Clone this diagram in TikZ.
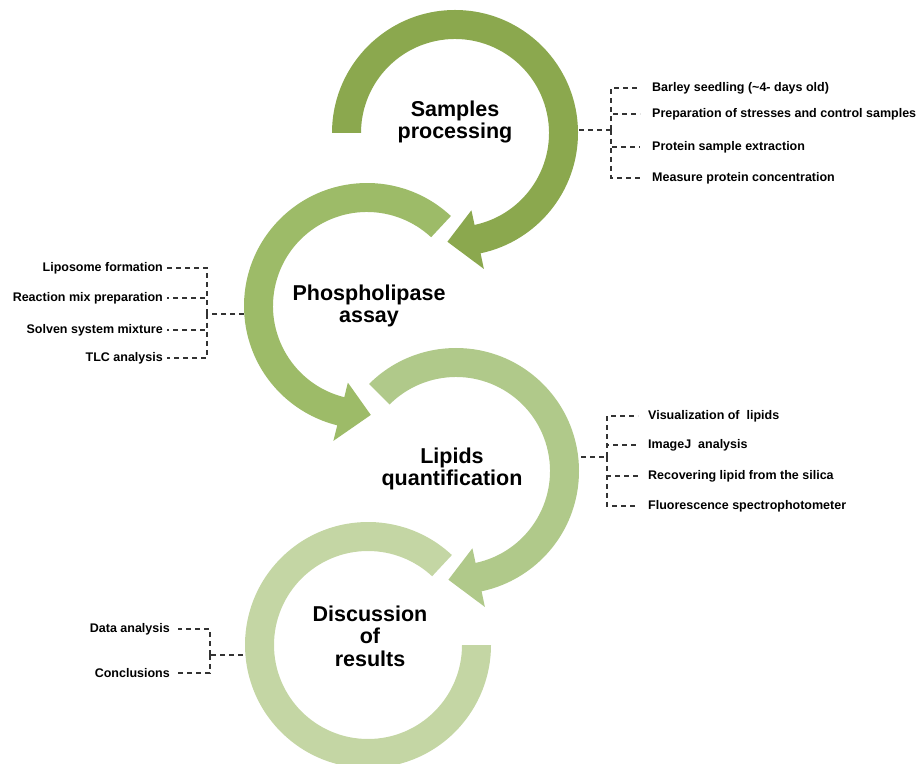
\documentclass[tikz,border=0pt]{standalone}
\usepackage{fontspec}
\setmainfont{Liberation Sans}
\usetikzlibrary{positioning}
\definecolor{stageA}{RGB}{139,168,78}
\definecolor{stageB}{RGB}{157,187,104}
\definecolor{stageC}{RGB}{176,201,138}
\definecolor{stageD}{RGB}{196,214,164}
% ring with an arrow head: colour, start angle, head base angle, tip angle
\newcommand{\ringarrow}[4]{%
  \fill[#1] (#2:123pt) arc[start angle=#2,end angle=#3,radius=123pt]
    -- (#3:139pt) -- (#4:109pt) -- (#3:79pt) -- (#3:94pt)
    arc[start angle=#3,end angle=#2,radius=94pt] -- cycle;}

\begin{document}
\begin{tikzpicture}[x=1pt,y=1pt
  ,title/.style={font=\fontsize{21.5}{22.5}\selectfont\bfseries,align=center}
  ,item/.style={font=\fontsize{12.5}{14}\selectfont\bfseries,inner sep=2pt}
  ,brk/.style={draw=black!80,dash pattern=on 5pt off 4pt,line width=1.1pt}
  ]
\useasboundingbox (0,0) rectangle (920,763);
\clip (0,0) rectangle (920,763);

\coordinate (c1) at (455,630);
\coordinate (c2) at (367,457);
\coordinate (c3) at (456,292);
\coordinate (c4) at (368,118);

% rings, last stage first
\begin{scope}[shift={(c4)}]
  \fill[stageD] (47:123pt) arc[start angle=47,end angle=360,radius=123pt]
    -- (0:94pt) arc[start angle=360,end angle=47,radius=94pt] -- cycle;
\end{scope}
\begin{scope}[shift={(c3)}] \ringarrow{stageC}{135}{-78}{-94} \end{scope}
\begin{scope}[shift={(c2)}] \ringarrow{stageB}{47}{256}{272} \end{scope}
\begin{scope}[shift={(c1)}] \ringarrow{stageA}{180}{-78}{-94} \end{scope}

\node[title] (samp) at ([yshift=11pt]c1) {Samples\\processing};
\node[title] (phos) at ([xshift=2pt]c2) {Phospholipase\\assay};
\node[title] (lipq) at ([xshift=-4pt,yshift=2pt]c3) {Lipids\\quantification};
\node[title] (disc) at ([xshift=2pt,yshift=9pt]c4) {Discussion\\of\\results};

% samples processing
\coordinate (eA) at (579,633);
\coordinate (jA) at (611,633);
\node[item,anchor=west] (a1) at (650,675) {Barley seedling (\textasciitilde4- days old)};
\node[item,anchor=west] (a2) at (650,649) {Preparation of stresses and control samples};
\node[item,anchor=west] (a3) at (650,616) {Protein sample extraction};
\node[item,anchor=west] (a4) at (650,585) {Measure protein concentration};
\draw[brk] (eA) -- (jA);
\foreach \i in {a1,a2,a3,a4}
  \draw[brk,shorten >=10pt] (jA) |- (\i.west);

% phospholipase assay
\coordinate (eB) at (244,449);
\coordinate (jB) at (207,449);
\node[item,anchor=east] (b1) at (165,495) {Liposome formation};
\node[item,anchor=east] (b2) at (165,465) {Reaction mix preparation};
\node[item,anchor=east] (b3) at (165,433) {Solven system mixture};
\node[item,anchor=east] (b4) at (165,405) {TLC analysis};
\draw[brk] (eB) -- (jB);
\foreach \i in {b1,b2,b3,b4}
  \draw[brk,shorten >=2pt] (jB) |- (\i.east);

% lipids quantification
\coordinate (eC) at (581,306);
\coordinate (jC) at (607,306);
\node[item,anchor=west] (q1) at (646,347) {Visualization of~ lipids};
\node[item,anchor=west] (q2) at (646,318) {ImageJ~ analysis};
\node[item,anchor=west] (q3) at (646,287) {Recovering lipid from the silica};
\node[item,anchor=west] (q4) at (646,257) {Fluorescence spectrophotometer};
\draw[brk] (eC) -- (jC);
\foreach \i in {q1,q2,q3,q4}
  \draw[brk,shorten >=8pt] (jC) |- (\i.west);

% discussion of results
\coordinate (eD) at (243,108);
\coordinate (jD) at (210,108);
\node[item,anchor=east] (d1) at (172,134) {Data analysis};
\node[item,anchor=east] (d2) at (172,90) {Conclusions};
\draw[brk] (eD) -- (jD);
\foreach \i in {d1,d2}
  \draw[brk,shorten >=6pt] (jD) |- (\i.east);
\end{tikzpicture}
\end{document}
